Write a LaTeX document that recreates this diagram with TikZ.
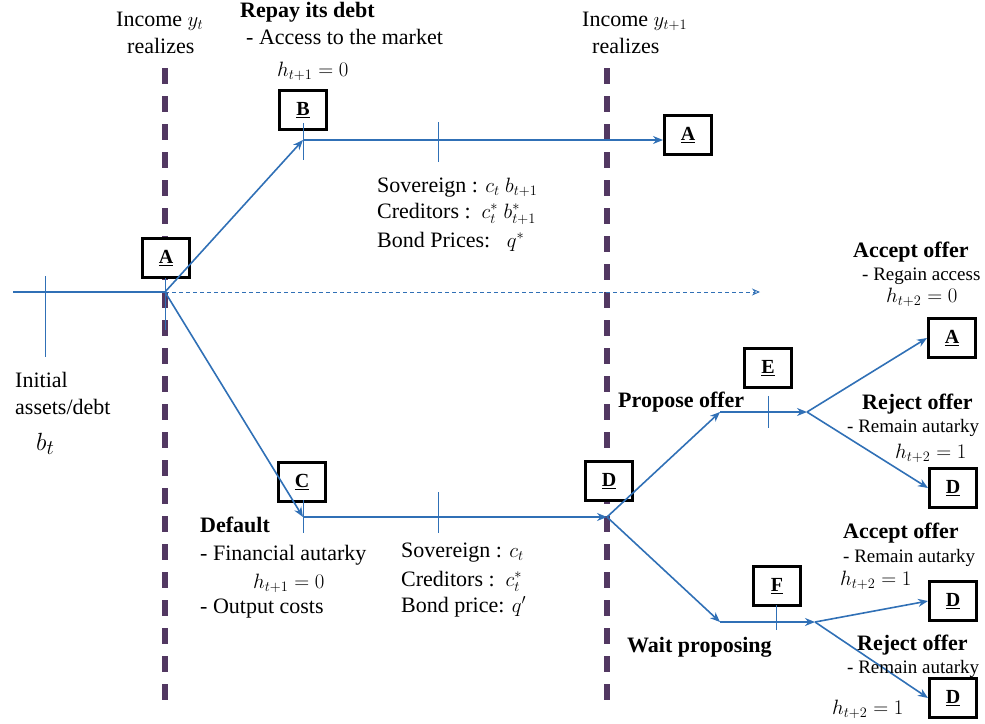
\documentclass[tikz,border=0pt]{standalone}
\usepackage{fontspec}
\setmainfont{Liberation Serif}
\usetikzlibrary{arrows.meta}
\definecolor{flowblue}{RGB}{48,112,182}
\definecolor{periodpurple}{RGB}{82,56,98}
\begin{document}
\begin{tikzpicture}[x=1pt,y=-1pt]
			\tikzstyle{state}  = [rectangle, draw=black, line width=3pt, fill=white, minimum width=47pt, minimum height=39pt, inner sep=0pt, font=\fontsize{20}{24}\selectfont\bfseries]
			\tikzstyle{flow}   = [draw=flowblue, line width=1.6pt, -{Stealth[length=10pt,width=8pt]}]
			\tikzstyle{tick}   = [draw=flowblue, line width=0.9pt]
			\tikzstyle{period} = [draw=periodpurple, line width=5.5pt, dash pattern=on 16pt off 12pt]
			\tikzstyle{lbl}    = [inner sep=0pt, anchor=base west, font=\fontsize{22}{27}\selectfont]
			\tikzstyle{head}   = [lbl, font=\fontsize{22}{27}\selectfont\bfseries]
			\tikzstyle{note}   = [lbl, font=\fontsize{19}{23}\selectfont]

			\useasboundingbox (0,0) rectangle (985,723);

			\draw[period] (165,68) -- (165,700);
			\draw[period] (607,68) -- (607,700);

			\foreach \name/\letter/\x/\y in {A0/A/166/258, B/B/303/110, A1/A/688/135, C/C/302/482, D0/D/609/481, E/E/768/368, F/F/777/586, A2/A/952/338, D1/D/953/488, D2/D/953/601, D3/D/953/698}
				\node[state] (\name) at (\x, \y) {\underline{\letter}};

			\coordinate (start) at (13,292);
			\coordinate (t0) at (165,292);
			\coordinate (far) at (760,292);
			\coordinate (kB) at (303,140);
			\coordinate (kC) at (303,517);
			\coordinate (kD) at (607,517);
			\coordinate (kE) at (720,412);
			\coordinate (jE) at (807,412);
			\coordinate (kF) at (720,622);
			\coordinate (jF) at (815,622);

			\foreach \x/\ya/\yb in {45/276/357, 165/278/330, 303/123/160, 438/122/162, 303/500/533, 438/492/533, 768/396/428, 776/605/630}
				\draw[tick] (\x, \ya) -- (\x, \yb);

			\draw[flow, -] (start) -- (t0);
			\draw[flowblue, line width=0.9pt, dash pattern=on 4pt off 3pt, -{Stealth[length=8pt,width=7pt,open]}] (t0) -- (far);

			\foreach \from/\to in {t0/kB, t0/kC, kC/kD, kD/kE, kE/jE, jE/A2.west, jE/D1.west, kD/kF, kF/jF, jF/D2.west, jF/D3.west}
				\draw[flow] (\from) -- (\to);
			\draw[flow] (kB) -- (kB -| A1.west);

			\foreach \name/\x/\y/\content in {inc0/116/26/{Income $y_t$}, rea0/127/53/{realizes}, inc1/582/26/{Income $y_{t+1}$}, rea1/592/53/{realizes}, acc/246/44/{- Access to the market}, hB/277/76/{$h_{t+1}=0$}, sovB/377/192/{Sovereign : $c_t$ $b_{t+1}$}, creB/377/218/{Creditors :\ \ $c^*_t$ $b^*_{t+1}$}, bonB/377/247/{Bond Prices:\ \ \ $q^*$}, ini/15/387/{Initial}, ass/15/414/{assets/debt}, fin/200/560/{- Financial autarky}, hC/253/588/{$h_{t+1}=0$}, out/200/613/{- Output costs}, sovC/401/557/{Sovereign : $c_t$}, creC/401/586/{Creditors :\ \ $c^*_t$}, bonC/401/612/{Bond price: $q'$}, hA/886/302/{$h_{t+2}=0$}, hE/895/458/{$h_{t+2}=1$}, hF/840/585/{$h_{t+2}=1$}, hG/832/714/{$h_{t+2}=1$}}
				\node[lbl] (\name) at (\x, \y) {\content};

			\foreach \name/\x/\y/\content in {rep/240/17/{Repay its debt}, def/200/532/{Default}, pro/618/407/{Propose offer}, accE/853/257/{Accept offer}, rejE/862/409/{Reject offer}, accF/843/538/{Accept offer}, wai/627/652/{Wait proposing}, rejF/857/650/{Reject offer}}
				\node[head] (\name) at (\x, \y) {\content};

			\foreach \name/\x/\y/\content in {reg/862/280/{- Regain access}, remE/847/432/{- Remain autarky}, remF/843/562/{- Remain autarky}, remG/847/673/{- Remain autarky}}
				\node[note] (\name) at (\x, \y) {\content};

			\node[lbl, font=\fontsize{28}{30}\selectfont] (bt) at (36, 450) {$b_t$};
		\end{tikzpicture}
\end{document}
